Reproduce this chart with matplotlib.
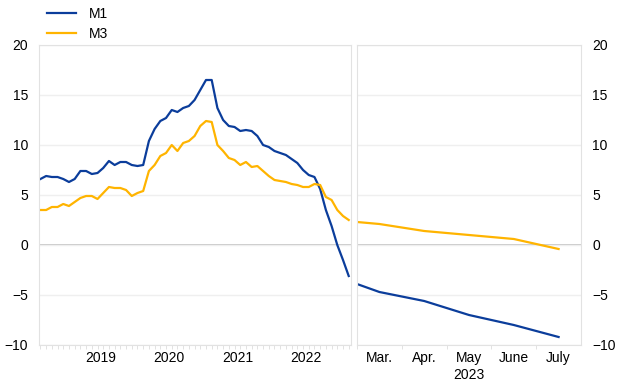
import matplotlib
matplotlib.use("Agg")
import matplotlib.pyplot as plt
import numpy as np
import pandas as pd

plt.rcParams["font.family"] = ["Liberation Sans", "DejaVu Sans"]
plt.rcParams["font.size"] = 10

# monthly annual growth rates, Aug 2018 - Feb 2023
months = pd.period_range("2018-08", "2023-02", freq="M")
m1 = [6.6, 6.9, 6.8, 6.8, 6.6, 6.3, 6.6, 7.4, 7.4, 7.1, 7.2, 7.7,
      8.4, 8.0, 8.3, 8.3, 8.0, 7.9, 8.0, 10.4, 11.6, 12.4, 12.7, 13.5,
      13.3, 13.7, 13.9, 14.5, 15.5, 16.5, 16.5, 13.7, 12.5, 11.9, 11.8,
      11.4, 11.5, 11.4, 10.9, 10.0, 9.8, 9.4, 9.2, 9.0, 8.6, 8.2, 7.5,
      7.0, 6.8, 5.6, 3.5, 1.9, 0.0, -1.5, -3.1]
m3 = [3.5, 3.5, 3.8, 3.8, 4.1, 3.9, 4.3, 4.7, 4.9, 4.9, 4.6, 5.2,
      5.8, 5.7, 5.7, 5.5, 4.9, 5.2, 5.4, 7.4, 8.0, 8.9, 9.2, 10.0,
      9.4, 10.2, 10.4, 10.9, 11.9, 12.4, 12.3, 10.0, 9.4, 8.7, 8.5,
      8.0, 8.3, 7.8, 7.9, 7.4, 6.9, 6.5, 6.4, 6.3, 6.1, 6.0, 5.8,
      5.8, 6.1, 6.0, 4.8, 4.5, 3.5, 2.9, 2.5]

# right panel, 2023
right_labels = ["Mar.", "Apr.", "May", "June", "July"]
right_x = [-0.5, 0, 1, 2, 3, 4]
right_m1 = [-3.9, -4.7, -5.6, -7.0, -8.0, -9.2]
right_m3 = [2.3, 2.1, 1.4, 1.0, 0.6, -0.4]

blue = "#0b3d9b"
yellow = "#ffb400"
grid = "#efefef"

fig = plt.figure(figsize=(6.2, 3.87), dpi=100)
ax1 = fig.add_axes([39 / 620, 42 / 387, 312 / 620, 300 / 387])
ax2 = fig.add_axes([357 / 620, 42 / 387, 224 / 620, 300 / 387])

x = np.arange(len(months))
ax1.plot(x, m1, color=blue, lw=1.6, label="M1")
ax1.plot(x, m3, color=yellow, lw=1.6, label="M3")
ax2.plot(right_x, right_m1, color=blue, lw=1.6)
ax2.plot(right_x, right_m3, color=yellow, lw=1.6)

for ax in (ax1, ax2):
    ax.set_ylim(-10, 20)
    ax.set_yticks(range(-10, 21, 5))
    ax.grid(axis="y", color=grid, lw=1)
    ax.axhline(0, color="#bdbdbd", lw=1.2, zorder=1)
    for s in ax.spines.values():
        s.set_color("#e2e2e2")
    ax.tick_params(axis="y", length=0, pad=8)
    ax.tick_params(axis="x", which="major", length=0, pad=4)
    ax.tick_params(axis="x", which="minor", length=3, color="#dddddd")

years = np.array([p.year for p in months])
label_years = [2019, 2020, 2021, 2022]
ax1.set_xticks([x[years == y].mean() for y in label_years])
ax1.set_xticklabels([str(y) for y in label_years])
ax1.set_xticks(x, minor=True)
ax1.set_xlim(-0.25, len(months) - 1 + 0.4)

ax2.set_xlim(-0.5, 4.5)
ax2.set_xticks(range(len(right_labels)))
ax2.set_xticklabels([lab if lab != "May" else "May\n2023" for lab in right_labels])
for lab in ax2.get_xticklabels():
    lab.set_linespacing(1.3)
ax2.set_xticks(np.arange(-0.5, 4.0, 1), minor=True)
ax2.yaxis.tick_right()

fig.legend(loc="upper left", bbox_to_anchor=(40 / 620, 1.0), frameon=False,
           handlelength=2.1, handletextpad=0.9, labelspacing=0.4, fontsize=10,
           borderaxespad=0.1)

fig.savefig("out.png", dpi=100)
